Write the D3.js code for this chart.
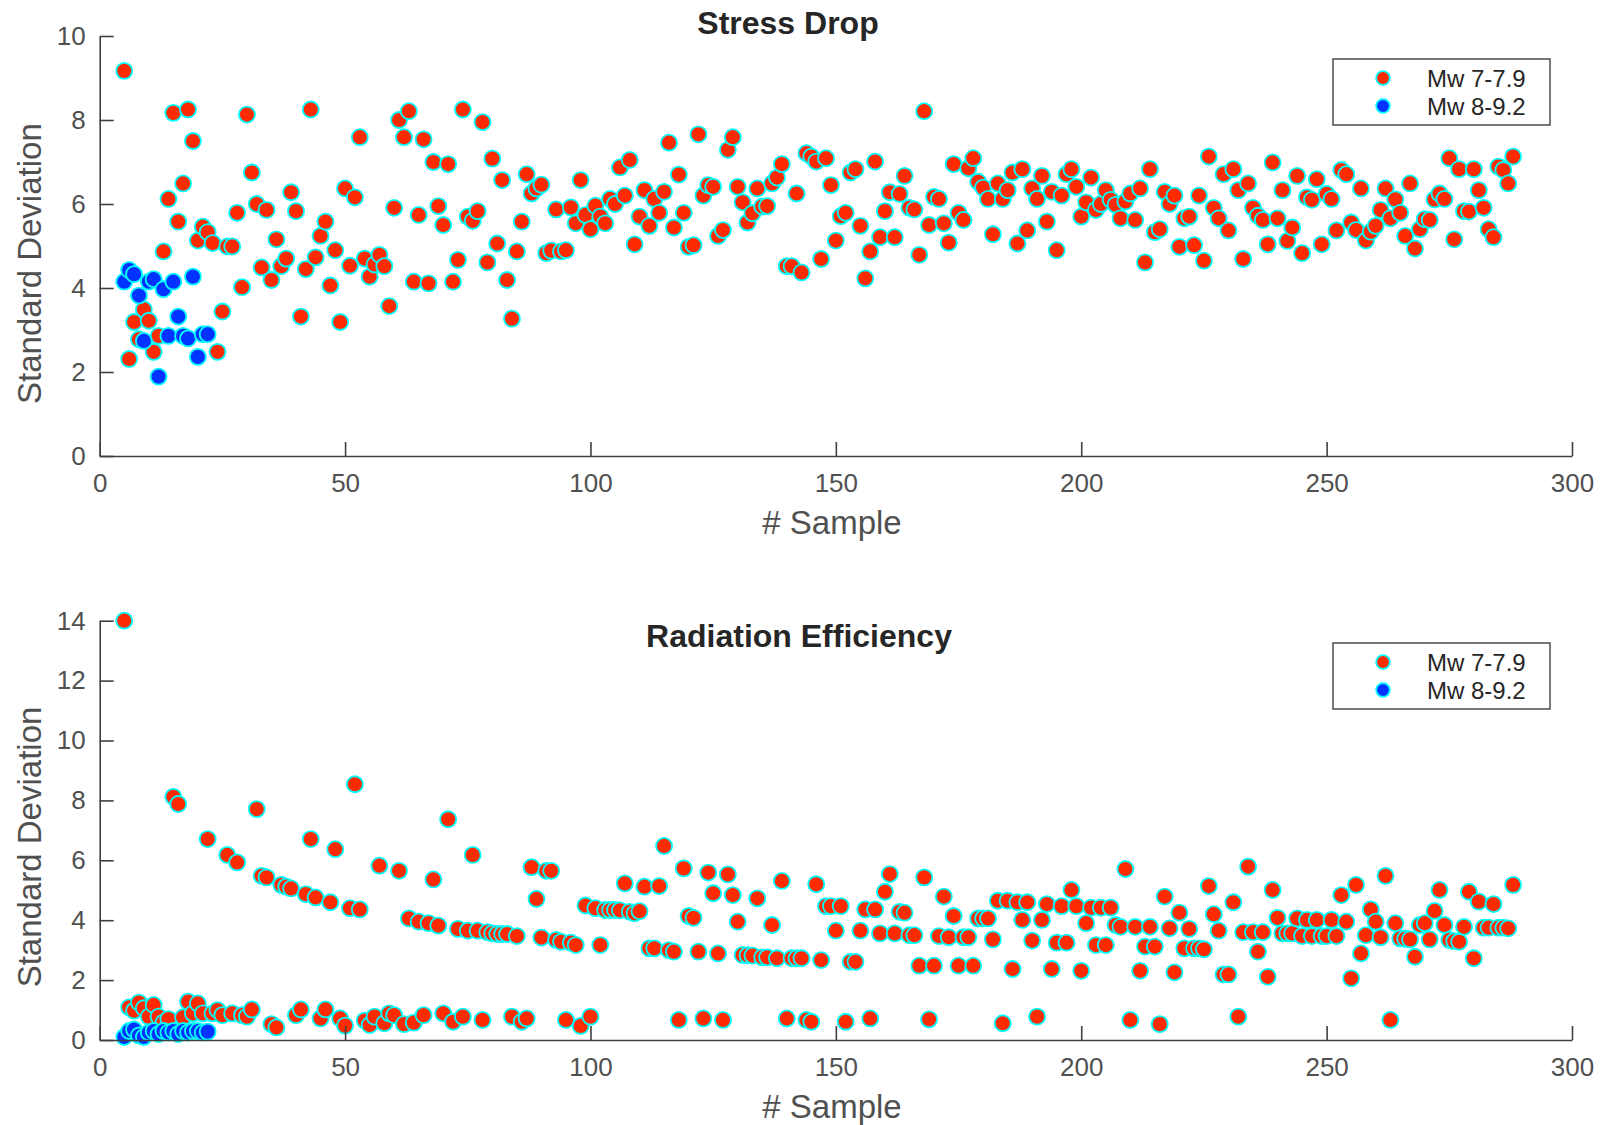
<!DOCTYPE html>
<html>
<head>
<meta charset="utf-8">
<script src="https://cdn.jsdelivr.net/npm/d3@7"></script>
<style>
  html, body { margin: 0; padding: 0; background: #ffffff; }
  svg { display: block; font-family: "Liberation Sans", Arial, Helvetica, sans-serif; }
</style>
</head>
<body>
<svg id="chart" width="1602" height="1125"></svg>
<script>
// Samples are numbered consecutively starting here
const firstSample = 5;

// Stress drop standard deviation, Mw 7-7.9 (samples 5..288)
const stressDropMw7 = [
  9.17, 2.31, 3.19, 2.78, 3.49, 3.22, 2.48, 2.86, 4.87, 6.12,
  8.17, 5.58, 6.49, 8.25, 7.5, 5.13, 5.46, 5.33, 5.07, 2.48,
  3.44, 4.99, 4.99, 5.79, 4.02, 8.13, 6.75, 6.0, 4.49, 5.86,
  4.19, 5.16, 4.52, 4.7, 6.28, 5.83, 3.32, 4.45, 8.25, 4.73,
  5.24, 5.58, 4.06, 4.9, 3.19, 6.37, 4.53, 6.16, 7.59, 4.7,
  4.27, 4.56, 4.79, 4.52, 3.57, 5.91, 8.0, 7.59, 8.21, 4.15,
  5.74, 7.54, 4.11, 7.0, 5.95, 5.5, 6.95, 4.15, 4.67, 8.25,
  5.7, 5.6, 5.83, 7.95, 4.61, 7.08, 5.06, 6.57, 4.19, 3.27,
  4.87, 5.58, 6.71, 6.25, 6.37, 6.46, 4.83, 4.89, 5.87, 4.87,
  4.9, 5.92, 5.54, 6.57, 5.74, 5.4, 5.96, 5.7, 5.54, 6.12,
  6.0, 6.87, 6.2, 7.05, 5.04, 5.7, 6.33, 5.48, 6.12, 5.79,
  6.29, 7.46, 5.44, 6.7, 5.79, 4.98, 5.02, 7.66, 6.2, 6.45,
  6.41, 5.24, 5.38, 7.29, 7.59, 6.41, 6.04, 5.56, 5.78, 6.37,
  5.94, 5.95, 6.49, 6.63, 6.95, 4.52, 4.52, 6.25, 4.37, 7.21,
  7.13, 7.01, 4.69, 7.09, 6.45, 5.13, 5.71, 5.79, 6.75, 6.83,
  5.48, 4.23, 4.87, 7.01, 5.21, 5.83, 6.28, 5.21, 6.24, 6.67,
  5.91, 5.87, 4.79, 8.21, 5.5, 6.17, 6.12, 5.54, 5.08, 6.95,
  5.79, 5.62, 6.85, 7.09, 6.53, 6.39, 6.12, 5.28, 6.49, 6.12,
  6.33, 6.75, 5.06, 6.83, 5.37, 6.37, 6.12, 6.67, 5.58, 6.29,
  4.9, 6.2, 6.71, 6.83, 6.41, 5.7, 6.04, 6.63, 5.86, 6.0,
  6.33, 6.1, 5.98, 5.66, 6.06, 6.25, 5.62, 6.37, 4.61, 6.83,
  5.33, 5.4, 6.29, 6.0, 6.2, 4.98, 5.66, 5.7, 5.02, 6.2,
  4.65, 7.13, 5.91, 5.66, 6.71, 5.37, 6.83, 6.33, 4.69, 6.49,
  5.91, 5.72, 5.62, 5.04, 6.99, 5.66, 6.33, 5.12, 5.44, 6.67,
  4.83, 6.16, 6.1, 6.59, 5.04, 6.24, 6.12, 5.37, 6.81, 6.71,
  5.56, 5.38, 6.37, 5.13, 5.34, 5.48, 5.86, 6.37, 5.66, 6.11,
  5.79, 5.24, 6.49, 4.94, 5.4, 5.64, 5.62, 6.11, 6.25, 6.12,
  7.09, 5.16, 6.83, 5.83, 5.82, 6.83, 6.33, 5.91, 5.4, 5.21,
  6.89, 6.81, 6.49, 7.13
];

// Stress drop standard deviation, Mw 8-9.2 (samples 5..22)
const stressDropMw8 = [
  4.15, 4.43, 4.33, 3.82, 2.74, 4.15, 4.21, 1.89, 3.97, 2.86,
  4.15, 3.32, 2.86, 2.8, 4.27, 2.36, 2.9, 2.9
];

// Radiation efficiency standard deviation, Mw 7-7.9 (samples 5..288)
const radEffMw7 = [
  14.0, 1.09, 0.98, 1.25, 1.06, 0.78, 1.17, 0.78, 0.58, 0.7,
  8.12, 7.88, 0.76, 1.28, 0.89, 1.22, 0.89, 6.71, 0.89, 1.0,
  0.83, 6.18, 0.89, 5.93, 0.83, 0.78, 1.02, 7.71, 5.48, 5.43,
  0.53, 0.42, 5.18, 5.12, 5.06, 0.83, 1.02, 4.87, 6.71, 4.76,
  0.72, 1.02, 4.6, 6.37, 0.72, 0.48, 4.4, 8.54, 4.36, 0.65,
  0.5, 0.78, 5.82, 0.56, 0.89, 0.83, 5.65, 0.53, 4.06, 0.58,
  3.95, 0.83, 3.9, 5.36, 3.82, 0.89, 7.37, 0.61, 3.71, 0.78,
  3.65, 6.18, 3.65, 0.67, 3.6, 3.56, 3.54, 3.54, 3.54, 0.78,
  3.47, 0.61, 0.72, 5.77, 4.71, 3.42, 5.65, 5.65, 3.34, 3.28,
  0.67, 3.25, 3.17, 0.47, 4.49, 0.78, 4.4, 3.17, 4.34, 4.34,
  4.34, 4.33, 5.23, 4.28, 4.23, 4.3, 5.12, 3.06, 3.06, 5.14,
  6.48, 3.0, 2.95, 0.67, 5.73, 4.14, 4.08, 2.95, 0.72, 5.59,
  4.9, 2.89, 0.67, 5.53, 4.84, 3.95, 2.84, 2.83, 2.82, 4.73,
  2.76, 2.76, 3.84, 2.73, 5.31, 0.72, 2.73, 2.73, 2.73, 0.67,
  0.61, 5.2, 2.67, 4.47, 4.47, 3.65, 4.47, 0.61, 2.61, 2.61,
  3.65, 4.36, 0.72, 4.36, 3.56, 4.95, 5.54, 3.56, 4.28, 4.25,
  3.5, 3.5, 2.48, 5.43, 0.69, 2.48, 3.47, 4.79, 3.43, 4.14,
  2.48, 3.43, 3.43, 2.48, 4.06, 4.06, 4.06, 3.36, 4.65, 0.56,
  4.65, 2.37, 4.6, 4.01, 4.6, 3.32, 0.78, 4.01, 4.54, 2.37,
  3.25, 4.47, 3.25, 5.01, 4.47, 2.31, 3.9, 4.42, 3.17, 4.42,
  3.17, 4.42, 3.84, 3.78, 5.71, 0.67, 3.78, 2.31, 3.12, 3.78,
  3.12, 0.53, 4.79, 3.73, 2.26, 4.25, 3.06, 3.71, 3.06, 3.06,
  3.03, 5.14, 4.2, 3.65, 2.19, 2.19, 4.6, 0.78, 3.6, 5.79,
  3.6, 2.95, 3.6, 2.11, 5.01, 4.08, 3.56, 3.56, 3.56, 4.06,
  3.47, 4.01, 3.47, 4.01, 3.47, 3.47, 4.01, 3.47, 4.84, 3.95,
  2.06, 5.18, 2.89, 3.5, 4.36, 3.95, 3.43, 5.48, 0.67, 3.9,
  3.39, 3.38, 3.36, 2.78, 3.84, 3.9, 3.36, 4.31, 5.01, 3.84,
  3.34, 3.3, 3.28, 3.78, 4.95, 2.73, 4.62, 3.75, 3.75, 4.54,
  3.75, 3.75, 3.73, 5.18
];

// Radiation efficiency standard deviation, Mw 8-9.2 (samples 5..22)
const radEffMw8 = [
  0.1, 0.3, 0.35, 0.15, 0.1, 0.25, 0.3, 0.2, 0.3, 0.25,
  0.3, 0.2, 0.3, 0.25, 0.3, 0.3, 0.25, 0.28
];

// Axis ticks and labels
const xTicks = [0, 50, 100, 150, 200, 250, 300];
const stressTicks = [0, 2, 4, 6, 8, 10];
const radTicks = [0, 2, 4, 6, 8, 10, 12, 14];
const seriesNames = ["Mw 7-7.9", "Mw 8-9.2"];
const seriesFill = ["#ff2a00", "#0033ff"];
const markerEdge = "#00ffff";

const axisColor = "#404040";
const labelColor = "#505050";
const titleColor = "#262626";

const svg = d3.select("#chart");

function panel(cfg) {
  const g = svg.append("g");
  const x = d3.scaleLinear().domain([0, 300]).range([99.7, 1572]);
  const y = d3.scaleLinear().domain([0, cfg.yMax]).range([cfg.bottom, cfg.top]);

  // data points: Mw 7-7.9 first, Mw 8-9.2 on top
  const series = [cfg.red, cfg.blue];
  series.forEach((vals, k) => {
    g.append("g")
      .selectAll("circle")
      .data(vals)
      .join("circle")
      .attr("cx", (d, i) => x(firstSample + i))
      .attr("cy", d => y(d))
      .attr("r", 8)
      .attr("fill", seriesFill[k])
      .attr("stroke", markerEdge)
      .attr("stroke-width", 1.8);
  });

  // axes, ticks pointing inward
  const xAxis = d3.axisBottom(x).tickValues(xTicks).tickSizeInner(-14).tickSizeOuter(0).tickPadding(18);
  const yAxis = d3.axisLeft(y).tickValues(cfg.yTicks).tickSizeInner(-14).tickSizeOuter(0).tickPadding(14);

  const gx = g.append("g").attr("transform", `translate(0,${cfg.bottom})`).call(xAxis);
  const gy = g.append("g").attr("transform", `translate(99.7,0)`).call(yAxis);
  [gx, gy].forEach(a => {
    a.select(".domain").attr("stroke", axisColor).attr("stroke-width", 1.6);
    a.selectAll(".tick line").attr("stroke", axisColor).attr("stroke-width", 1.6);
    a.selectAll(".tick text")
      .attr("fill", labelColor)
      .style("font-size", "26px")
      .style("font-family", '"Liberation Sans", Arial, sans-serif');
  });

  // axis labels
  g.append("text")
    .attr("x", 832).attr("y", cfg.xLabelY)
    .attr("text-anchor", "middle")
    .attr("fill", labelColor)
    .style("font-size", "33px")
    .text("# Sample");

  g.append("text")
    .attr("transform", `translate(40.5,${cfg.yLabelCenter}) rotate(-90)`)
    .attr("text-anchor", "middle")
    .attr("fill", labelColor)
    .style("font-size", "33px")
    .text("Standard Deviation");

  // title
  g.append("text")
    .attr("x", cfg.titleX).attr("y", cfg.titleY)
    .attr("text-anchor", "middle")
    .attr("fill", titleColor)
    .style("font-size", "32px")
    .style("font-weight", "bold")
    .text(cfg.title);

  // legend
  const lg = g.append("g").attr("transform", `translate(1333,${cfg.legendTop})`);
  lg.append("rect")
    .attr("width", 217).attr("height", 66)
    .attr("fill", "#ffffff")
    .attr("stroke", axisColor)
    .attr("stroke-width", 1.4);
  seriesNames.forEach((name, k) => {
    const cy = 19 + k * 28;
    lg.append("circle")
      .attr("cx", 50).attr("cy", cy).attr("r", 6.8)
      .attr("fill", seriesFill[k])
      .attr("stroke", markerEdge)
      .attr("stroke-width", 1.8);
    lg.append("text")
      .attr("x", 94).attr("y", cy + 9)
      .attr("fill", titleColor)
      .style("font-size", "24px")
      .text(name);
  });
}

panel({
  title: "Stress Drop", titleX: 788, titleY: 34,
  top: 36, bottom: 456, yMax: 10, yTicks: stressTicks,
  red: stressDropMw7, blue: stressDropMw8,
  xLabelY: 534, yLabelCenter: 263.6, legendTop: 59
});

panel({
  title: "Radiation Efficiency", titleX: 799, titleY: 647,
  top: 620.7, bottom: 1040, yMax: 14, yTicks: radTicks,
  red: radEffMw7, blue: radEffMw8,
  xLabelY: 1118, yLabelCenter: 847, legendTop: 643
});
</script>
</body>
</html>
